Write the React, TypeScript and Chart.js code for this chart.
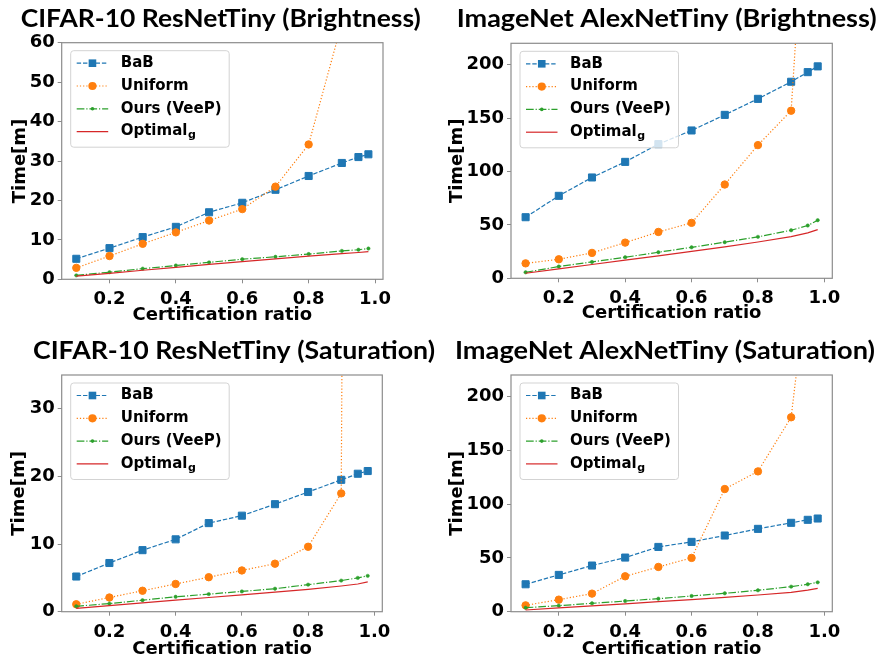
import React, { useEffect, useRef } from 'react';
import { Chart, registerables } from 'chart.js';
Chart.register(...registerables);

// shared x positions (certification ratio)
const ratios = [0.1, 0.2, 0.3, 0.4, 0.5, 0.6, 0.7, 0.8, 0.9, 0.95, 0.98];
const xTicks = [0.2, 0.4, 0.6, 0.8, 1.0];
const seriesNames = ['BaB', 'Uniform', 'Ours (VeeP)', 'Optimal'];

// CIFAR-10 ResNetTiny (Brightness)
const cbBaB = [5.2, 7.9, 10.7, 13.3, 17.0, 19.4, 22.7, 26.2, 29.5, 31.0, 31.7];
const cbUniform = [2.9, 5.9, 9.0, 11.9, 14.9, 17.8, 23.5, 34.2, 65];
const cbOurs = [1.0, 1.8, 2.7, 3.5, 4.3, 5.1, 5.7, 6.4, 7.2, 7.5, 7.8];
const cbOptimal = [0.8, 1.5, 2.3, 3.0, 3.8, 4.5, 5.2, 5.9, 6.5, 6.8, 7.0];
const cbYTicks = [0, 10, 20, 30, 40, 50, 60];

// ImageNet AlexNetTiny (Brightness)
const ibBaB = [57.2, 77.2, 94.4, 109, 125.6, 138.4, 153, 168, 184, 193, 198.4];
const ibUniform = [14, 17.8, 23.8, 33.4, 43.4, 51.9, 87.8, 124.7, 156.9, 400];
const ibOurs = [5.6, 11, 15.3, 19.7, 24.4, 29, 33.8, 38.8, 45, 49.4, 54.4];
const ibOptimal = [4.7, 8.8, 12.9, 17, 21, 25.2, 29.5, 34, 39, 42.5, 45.6];
const ibYTicks = [0, 50, 100, 150, 200];

// CIFAR-10 ResNetTiny (Saturation)
const csBaB = [5.2, 7.2, 9.1, 10.7, 13.1, 14.2, 15.9, 17.7, 19.5, 20.4, 20.8];
const csUniform = [1.1, 2.1, 3.1, 4.1, 5.1, 6.1, 7.1, 9.6, 17.5, 450];
const csOurs = [0.8, 1.2, 1.7, 2.2, 2.6, 3.0, 3.4, 4.0, 4.6, 5.0, 5.3];
const csOptimal = [0.5, 0.9, 1.3, 1.7, 2.1, 2.5, 2.9, 3.3, 3.8, 4.1, 4.4];
const csYTicks = [0, 10, 20, 30];

// ImageNet AlexNetTiny (Saturation)
const isBaB = [25.5, 34.2, 42.9, 50.3, 60.2, 64.9, 70.8, 77, 82.6, 85.4, 86.6];
const isUniform = [5.9, 11.2, 16.8, 32.9, 41.6, 50, 114, 130.4, 180.7, 310];
const isOurs = [3.7, 5.6, 7.8, 9.9, 12.1, 14.6, 17.1, 19.9, 23.3, 25.5, 27.3];
const isOptimal = [1.6, 3.5, 5.4, 7.3, 9.3, 11.3, 13.3, 15.5, 18, 20, 21.7];
const isYTicks = [0, 50, 100, 150, 200];

const COLORS = ['#1f77b4', '#ff7f0e', '#2ca02c', '#d62728'];
const DASHES = [[4.4, 1.9], [1.2, 2], [7.7, 1.9, 1.2, 1.9], []];
const FONT = '"DejaVu Sans"';
const SPINE = '#8c8c8c';

const panels = [
  {
    title: 'CIFAR-10 ResNetTiny (Brightness)', series: [cbBaB, cbUniform, cbOurs, cbOptimal], yTicks: cbYTicks, yMax: 60,
    left: 0, top: 0, w: 440, h: 332, yw: 61.7, padTop: 42.7, padRight: 57, xh: 52.7,
    yTitlePad: 10, xTitlePad: 5.9, titleCx: 220.7, titleW: 400,
  },
  {
    title: 'ImageNet AlexNetTiny (Brightness)', series: [ibBaB, ibUniform, ibOurs, ibOptimal], yTicks: ibYTicks, yMax: 220,
    left: 440, top: 0, w: 439, h: 332, yw: 71, padTop: 43.3, padRight: 46.7, xh: 53.7,
    yTitlePad: 6.2, xTitlePad: 7.5, titleCx: 226.7, titleW: 420,
  },
  {
    title: 'CIFAR-10 ResNetTiny (Saturation)', series: [csBaB, csUniform, csOurs, csOptimal], yTicks: csYTicks, yMax: 35,
    left: 0, top: 332, w: 440, h: 322, yw: 61.7, padTop: 43, padRight: 57.7, xh: 42.3,
    yTitlePad: 9, xTitlePad: -6.6, titleCx: 234, titleW: 402,
  },
  {
    title: 'ImageNet AlexNetTiny (Saturation)', series: [isBaB, isUniform, isOurs, isOptimal], yTicks: isYTicks, yMax: 220,
    left: 440, top: 332, w: 439, h: 322, yw: 71, padTop: 43, padRight: 46.7, xh: 42.3,
    yTitlePad: 6.2, xTitlePad: -6.6, titleCx: 225, titleW: 420,
  },
];

const framePlugin = {
  id: 'frame',
  afterDatasetsDraw(chart: any) {
    const { ctx, chartArea: a } = chart;
    ctx.save();
    ctx.strokeStyle = SPINE;
    ctx.lineWidth = 1.2;
    ctx.setLineDash([]);
    ctx.strokeRect(a.left, a.top, a.right - a.left, a.bottom - a.top);

    const lx = a.left + 9, ly = a.top + 8, lw = 158.5, lh = 96.5;
    ctx.beginPath();
    const r = 3;
    ctx.moveTo(lx + r, ly);
    ctx.lineTo(lx + lw - r, ly);
    ctx.arcTo(lx + lw, ly, lx + lw, ly + r, r);
    ctx.lineTo(lx + lw, ly + lh - r);
    ctx.arcTo(lx + lw, ly + lh, lx + lw - r, ly + lh, r);
    ctx.lineTo(lx + r, ly + lh);
    ctx.arcTo(lx, ly + lh, lx, ly + lh - r, r);
    ctx.lineTo(lx, ly + r);
    ctx.arcTo(lx, ly, lx + r, ly, r);
    ctx.closePath();
    ctx.fillStyle = 'rgba(255,255,255,0.8)';
    ctx.fill();
    ctx.strokeStyle = '#d3d3d3';
    ctx.lineWidth = 1;
    ctx.stroke();

    seriesNames.forEach((name, i) => {
      const cy = ly + 12.5 + i * 22.8;
      const x0 = lx + 6, x1 = lx + 37.5, xm = (x0 + x1) / 2;
      ctx.strokeStyle = COLORS[i];
      ctx.lineWidth = 1.2;
      ctx.setLineDash(DASHES[i]);
      ctx.beginPath();
      ctx.moveTo(x0, cy);
      ctx.lineTo(x1, cy);
      ctx.stroke();
      ctx.setLineDash([]);
      ctx.fillStyle = COLORS[i];
      if (i === 0) {
        ctx.fillRect(xm - 3.8, cy - 3.8, 7.6, 7.6);
      } else if (i === 1) {
        ctx.beginPath(); ctx.arc(xm, cy, 4.1, 0, Math.PI * 2); ctx.fill();
      } else if (i === 2) {
        ctx.beginPath(); ctx.arc(xm, cy, 1.8, 0, Math.PI * 2); ctx.fill();
      }
      ctx.fillStyle = '#000';
      ctx.font = `bold 15px ${FONT}`;
      ctx.textBaseline = 'middle';
      ctx.textAlign = 'left';
      ctx.fillText(name, lx + 50, cy);
      if (i === 3) {
        const w = ctx.measureText(name).width;
        ctx.font = `bold 11px ${FONT}`;
        ctx.fillText('g', lx + 50 + w + 0.5, cy + 4);
      }
    });
    ctx.restore();
  },
  afterDraw(chart: any, _args: any, opts: any) {
    const { ctx } = chart;
    ctx.save();
    ctx.font = 'bold 24px Lato';
    ctx.fillStyle = '#000';
    ctx.textAlign = 'center';
    ctx.textBaseline = 'alphabetic';
    const w = ctx.measureText(opts.title).width;
    ctx.translate(opts.cx, 27.3);
    ctx.scale(opts.w / w, 1);
    ctx.fillText(opts.title, 0, 0);
    ctx.restore();
  },
};

function Panel({ p }: { p: any }) {
  const ref = useRef<HTMLCanvasElement>(null);
  useEffect(() => {
    let chart: any = null;
    let cancelled = false;
    const build = () => {
      if (cancelled) return;
      const datasets = p.series.map((vals: number[], i: number) => ({
        label: seriesNames[i],
        data: vals.map((v, k) => ({ x: ratios[k], y: v })),
        borderColor: COLORS[i],
        backgroundColor: COLORS[i],
        pointBackgroundColor: COLORS[i],
        pointBorderColor: COLORS[i],
        borderWidth: 1.2,
        borderDash: DASHES[i],
        pointStyle: i === 0 ? 'rect' : 'circle',
        pointRadius: [5, 3.7, 1.7, 0][i],
        pointBorderWidth: [1, 1, 0.5, 0][i],
        tension: 0,
        order: 3 - i,
        clip: 0,
      }));
      chart = new Chart(ref.current as HTMLCanvasElement, {
        type: 'line',
        data: { datasets },
        plugins: [framePlugin as any],
        options: {
          animation: false,
          responsive: false,
          events: [],
          layout: { padding: { top: p.padTop, right: p.padRight, left: 0, bottom: 0 } },
          plugins: {
            legend: { display: false },
            tooltip: { enabled: false },
            title: { display: false },
            frame: { title: p.title, cx: p.titleCx, w: p.titleW },
          } as any,
          scales: {
            x: {
              type: 'linear',
              min: 0.056,
              max: 1.024,
              afterBuildTicks: (s: any) => { s.ticks = xTicks.map((v) => ({ value: v })); },
              afterFit: (s: any) => { s.height = p.xh; },
              grid: { display: true, drawOnChartArea: false, drawTicks: true, tickLength: 4, color: SPINE, lineWidth: 1 },
              border: { display: false },
              ticks: {
                autoSkip: false, maxRotation: 0, padding: 5.5, color: '#000',
                font: { family: FONT, weight: 'bold', size: 18 },
                callback: (v: any) => Number(v).toFixed(1),
              },
              title: {
                display: true, text: 'Certification ratio', color: '#000',
                font: { family: FONT, weight: 'bold', size: 18 },
                padding: { top: 0, bottom: p.xTitlePad },
              },
            },
            y: {
              type: 'linear',
              min: 0,
              max: p.yMax,
              afterBuildTicks: (s: any) => { s.ticks = p.yTicks.map((v: number) => ({ value: v })); },
              afterFit: (s: any) => { s.width = p.yw; },
              grid: { display: true, drawOnChartArea: false, drawTicks: true, tickLength: 4, color: SPINE, lineWidth: 1 },
              border: { display: false },
              ticks: {
                autoSkip: false, padding: 3, color: '#000',
                font: { family: FONT, weight: 'bold', size: 18 },
                callback: (v: any) => String(v),
              },
              title: {
                display: true, text: 'Time[m]', color: '#000',
                font: { family: FONT, weight: 'bold', size: 18 },
                padding: { top: p.yTitlePad, bottom: 0 },
              },
            },
          },
        } as any,
      });
    };
    const fonts: any = (document as any).fonts;
    if (fonts && fonts.load) {
      Promise.all([
        fonts.load('bold 18px "DejaVu Sans"'),
        fonts.load('bold 15px "DejaVu Sans"'),
        fonts.load('bold 24px Lato'),
      ]).then(build, build);
    } else {
      build();
    }
    return () => { cancelled = true; if (chart) chart.destroy(); };
  }, []);
  return (
    <canvas
      ref={ref}
      width={p.w}
      height={p.h}
      style={{ position: 'absolute', left: p.left, top: p.top, width: p.w, height: p.h }}
    />
  );
}

export default function App() {
  return (
    <div style={{ position: 'absolute', left: 0, top: 0, width: 879, height: 654, overflow: 'hidden', background: '#fff' }}>
      {panels.map((p, i) => <Panel key={i} p={p} />)}
    </div>
  );
}
